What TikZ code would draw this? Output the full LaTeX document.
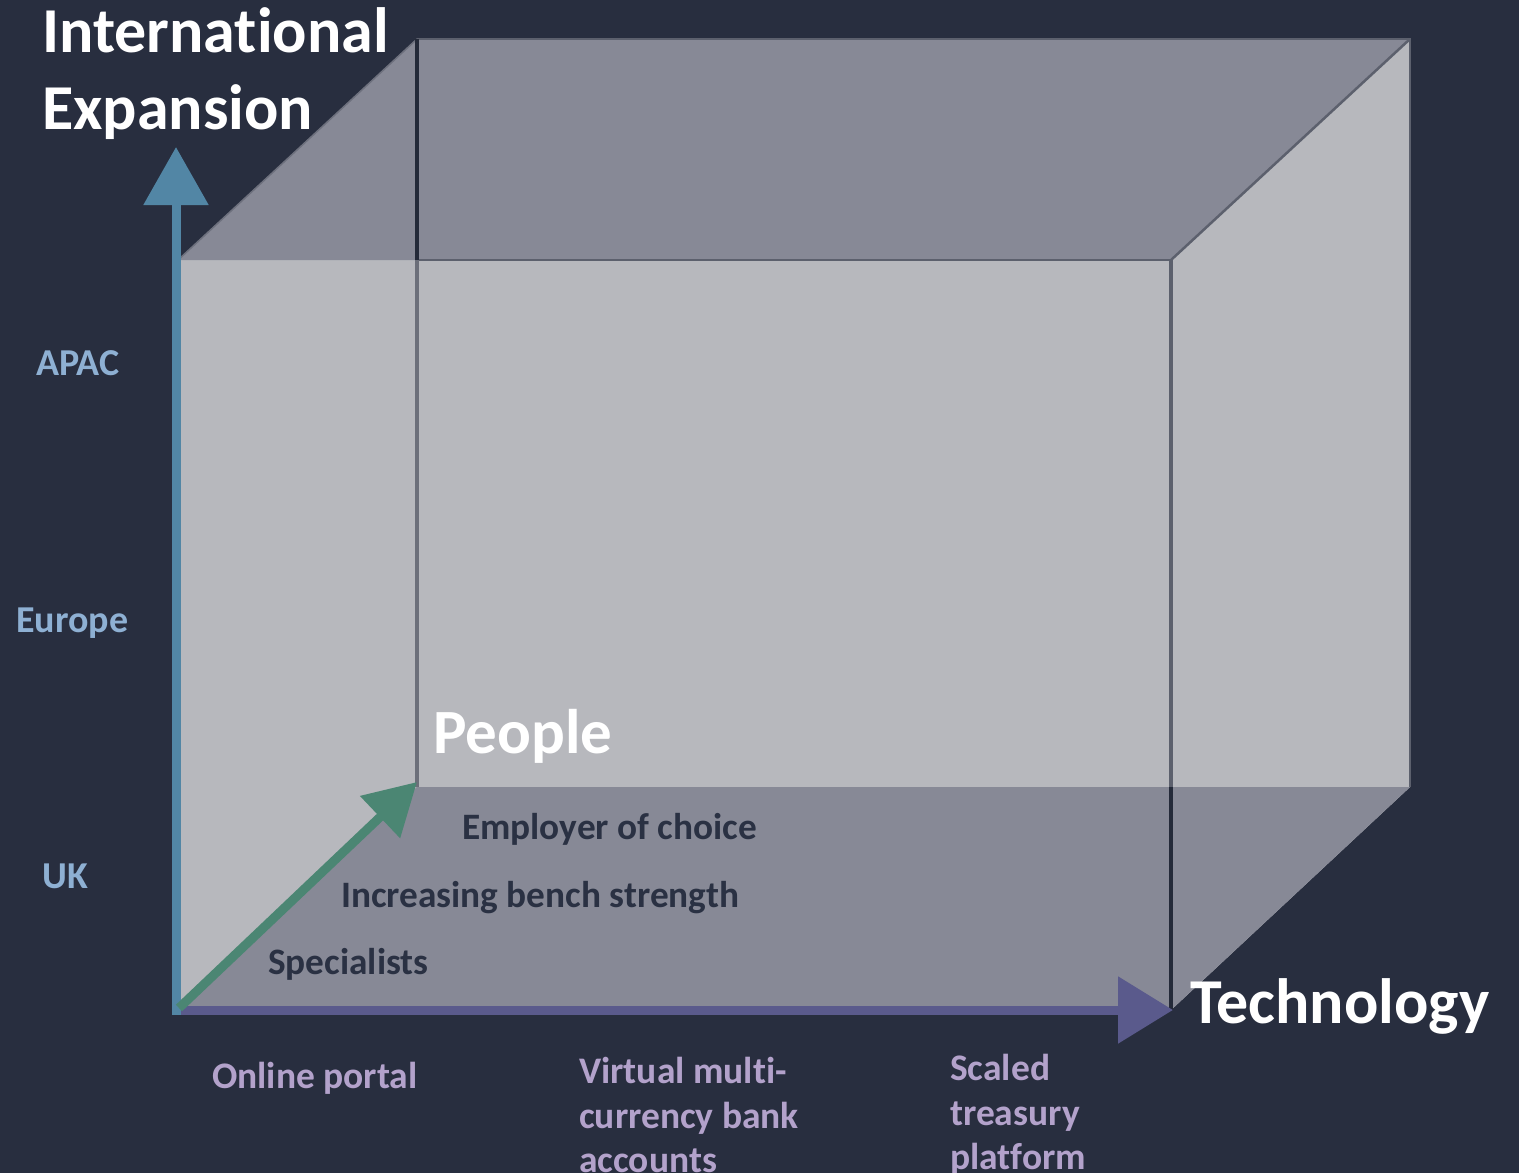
\documentclass[tikz,border=0pt]{standalone}
\usepackage{fontspec}
\setmainfont{Carlito}[Ligatures=NoCommon]
\usetikzlibrary{arrows.meta}

\definecolor{bg}{HTML}{282E3F}
\definecolor{facelight}{HTML}{B7B8BD}
\definecolor{facedark}{HTML}{878996}
\definecolor{edgegray}{HTML}{5C606D}
\definecolor{edgefade}{HTML}{6C6F7A}
\definecolor{edgedark}{HTML}{242A39}
\definecolor{axisblue}{HTML}{5286A5}
\definecolor{axispurple}{HTML}{5A5A8C}
\definecolor{axisgreen}{HTML}{4B8673}
\definecolor{regionblue}{HTML}{8EB0D3}
\definecolor{techlavender}{HTML}{B3A2CB}
\definecolor{peopledark}{HTML}{2A3143}

\tikzset{
  axistitle/.style={font=\bfseries\fontsize{64}{77}\selectfont, text=white, inner sep=0pt, anchor=base west},
  regionlabel/.style={font=\bfseries\fontsize{38}{44}\selectfont, text=regionblue, inner sep=0pt, anchor=base west},
  peoplelabel/.style={font=\bfseries\fontsize{37.3}{44}\selectfont, text=peopledark, inner sep=0pt, anchor=base west},
  techlabel/.style={font=\bfseries\fontsize{37.5}{44.5}\selectfont, text=techlavender, inner sep=0pt, anchor=north west, align=left},
  thinedge/.style={draw=edgegray, line width=2.5pt},
  postedge/.style={line width=4pt},
  axisarrow/.style={line width=9pt},
}

\begin{document}
\begin{tikzpicture}[x=1pt, y=-1pt]
  % canvas
  \fill[bg] (0,0) rectangle (1519,1173);
  \useasboundingbox (0,0) rectangle (1519,1173);

  % box corners: front face and back face
  \coordinate (FTL) at (178,260);
  \coordinate (FTR) at (1171,260);
  \coordinate (FBR) at (1171,1010);
  \coordinate (FBL) at (178,1010);
  \coordinate (BTL) at (417,39);
  \coordinate (BTR) at (1410,39);
  \coordinate (BBR) at (1410,787);
  \coordinate (BBL) at (417,787);

  % faces
  \fill[facelight] (FBL) -- (FTL) -- (BTL) -- (BTR) -- (BBR) -- (FBR) -- cycle;
  \fill[facedark] (FTL) -- (BTL) -- (BTR) -- (FTR) -- cycle;
  \fill[facedark] (FBL) -- (BBL) -- (BBR) -- (FBR) -- cycle;

  % edges
  \draw[thinedge] (BTL) -- (BTR) -- (BBR);
  \draw[thinedge] (BTR) -- (FTR);
  \draw[thinedge] (FTR) -- (417,260);
  \draw[draw=edgegray!60!facedark, line width=1.5pt] (FTL) -- (BTL);
  \draw[postedge, edgedark] (BTL) -- (417,260);
  \draw[postedge, edgefade] (417,260) -- (BBL);
  \draw[postedge, edgegray] (FTR) -- (1171,787);
  \draw[postedge, edgedark] (1171,787) -- (FBR);

  % axes
  \coordinate (O) at (176,1015);
  \coordinate (Ytip) at (176,147);
  \coordinate (Xstart) at (172,1010);
  \coordinate (Xtip) at (1173,1010);
  \coordinate (Zstart) at (179,1008);
  \coordinate (Ztip) at (417,782);
  \draw[axisarrow, axispurple, -{Triangle[length=55pt,width=65pt]}] (Xstart) -- (Xtip);
  \draw[axisarrow, axisblue, -{Triangle[length=58pt,width=63pt]}] (O) -- (Ytip);
  \draw[axisarrow, axisgreen, -{Triangle[length=51pt,width=56pt]}] (Zstart) -- (Ztip);

  % axis titles
  \node[axistitle, anchor=north west, align=left]
    (intl) at (42,7) {International\\Expansion};
  \node[axistitle, font=\bfseries\fontsize{63}{70}\selectfont] (people) at (433,753) {People};
  \node[axistitle] (tech) at (1190,1023) {Technology};

  % international expansion stages
  \node[regionlabel] (apac) at (36,375) {APAC};
  \node[regionlabel] (europe) at (16,632) {Europe};
  \node[regionlabel] (uk) at (42,888) {UK};

  % people stages
  \node[peoplelabel] (employer) at (462,839) {Employer of choice};
  \node[peoplelabel] (bench) at (341,907) {Increasing bench strength};
  \node[peoplelabel] (specialists) at (268,974) {Specialists};

  % technology stages
  \node[techlabel] (portal) at (212,1062) {Online portal};
  \node[techlabel] (virtual) at (579,1057) {Virtual multi-\\currency bank\\accounts};
  \node[techlabel] (scaled) at (950,1054) {Scaled\\treasury\\platform};
\end{tikzpicture}
\end{document}
